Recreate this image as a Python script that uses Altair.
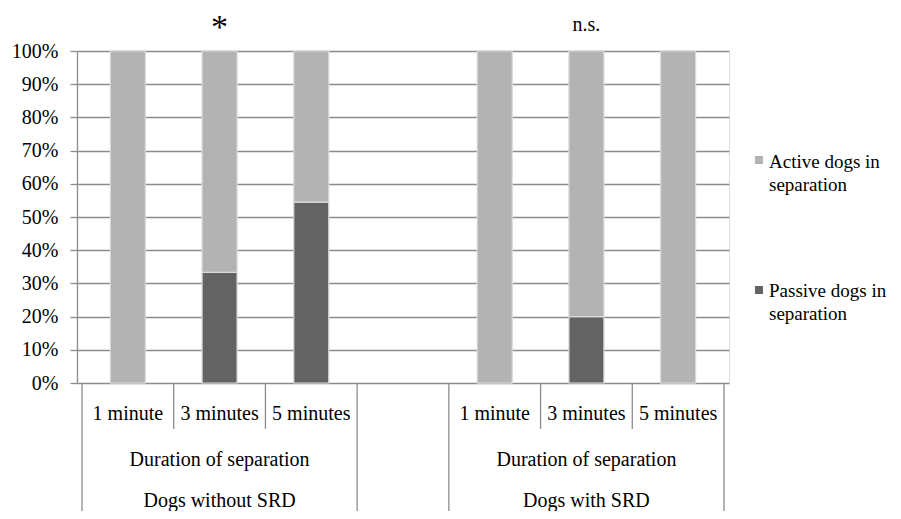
import altair as alt
import pandas as pd

# ---- data ----
groups = ["Dogs without SRD", "Dogs with SRD"]
durations = ["1 minute", "3 minutes", "5 minutes"]
passive_pct = [[0.0, 33.3, 54.5], [0.0, 20.0, 0.0]]
series = ["Active dogs in separation", "Passive dogs in separation"]
legend_lines = ["Active dogs in|separation", "Passive dogs in|separation"]
significance = ["*", "n.s."]
axis_title = "Duration of separation"
y_ticks = [0, 10, 20, 30, 40, 50, 60, 70, 80, 90, 100]

# ---- style ----
FONT = "Liberation Serif"
FS = 20
GRID = "#8c8c8c"
COLORS = ["#b3b3b3", "#636363"]
N_SLOTS = 7  # 3 + gap + 3

# ---- tables built from the arrays ----
rows = []
for g, grp in enumerate(groups):
    for d, dur in enumerate(durations):
        slot = g * 4 + d + 0.5
        p = passive_pct[g][d]
        rows.append({"slot": slot, "group": grp, "duration": dur,
                     "series": series[1], "value": p, "ord": 0})
        rows.append({"slot": slot, "group": grp, "duration": dur,
                     "series": series[0], "value": 100 - p, "ord": 1})
bars_df = pd.DataFrame(rows)

minutes_df = bars_df[bars_df["ord"] == 0][["slot", "duration"]]
group_df = pd.DataFrame({
    "center": [g * 4 + 1.5 for g in range(len(groups))],
    "group": groups,
    "title": [axis_title] * len(groups),
    "sig": significance,
})
short_sep = pd.DataFrame({"x": [g * 4 + k for g in range(len(groups)) for k in (1, 2)]})
long_sep = pd.DataFrame({"x": [g * 4 + k for g in range(len(groups)) for k in (0, 3)]})

xscale = alt.Scale(domain=[0, N_SLOTS], nice=False, zero=False)
color_scale = alt.Scale(domain=series, range=COLORS)

bars = alt.Chart(bars_df).mark_bar(size=35, stroke="#dadada", strokeWidth=1.2).encode(
    x=alt.X("slot:Q", scale=xscale, axis=None),
    y=alt.Y("value:Q", stack="zero",
            scale=alt.Scale(domain=[0, 100], nice=False),
            axis=alt.Axis(values=y_ticks, labelExpr="datum.value + '%'",
                          title=None, grid=True, gridColor=GRID, gridWidth=1.3,
                          tickColor=GRID, tickSize=7, tickWidth=1.3,
                          domainColor=GRID, domainWidth=1.3,
                          labelPadding=12, labelFont=FONT, labelFontSize=FS,
                          labelColor="#000000")),
    color=alt.Color("series:N", scale=color_scale, legend=None),
    order=alt.Order("ord:Q"),
)

short_rules = alt.Chart(short_sep).mark_rule(color=GRID, strokeWidth=1.3).encode(
    x=alt.X("x:Q", scale=xscale), y=alt.value(332), y2=alt.value(378))
long_rules = alt.Chart(long_sep).mark_rule(color=GRID, strokeWidth=1.3).encode(
    x=alt.X("x:Q", scale=xscale), y=alt.value(332), y2=alt.value(480))

minute_text = alt.Chart(minutes_df).mark_text(
    font=FONT, fontSize=FS, baseline="alphabetic", color="#000000").encode(
    x=alt.X("slot:Q", scale=xscale), y=alt.value(369), text="duration:N")
title_text = alt.Chart(group_df).mark_text(
    font=FONT, fontSize=FS, baseline="alphabetic", color="#000000").encode(
    x=alt.X("center:Q", scale=xscale), y=alt.value(415), text="title:N")
group_text = alt.Chart(group_df).mark_text(
    font=FONT, fontSize=FS, baseline="alphabetic", color="#000000").encode(
    x=alt.X("center:Q", scale=xscale), y=alt.value(456), text="group:N")
star_text = alt.Chart(group_df).transform_filter(alt.datum.sig == "*").mark_text(
    font=FONT, fontSize=34, baseline="alphabetic", color="#000000").encode(
    x=alt.X("center:Q", scale=xscale), y=alt.value(-13), text="sig:N")
ns_text = alt.Chart(group_df).transform_filter(alt.datum.sig != "*").mark_text(
    font=FONT, fontSize=FS, baseline="alphabetic", color="#000000").encode(
    x=alt.X("center:Q", scale=xscale), y=alt.value(-20), text="sig:N")

legend_df = pd.DataFrame({"series": series, "label": legend_lines})
legend_layers = []
for i, (ys, yt) in enumerate([(109, 117), (239, 246)]):
    sub = legend_df.iloc[[i]]
    legend_layers.append(
        alt.Chart(sub).mark_square(size=64, opacity=1).encode(
            x=alt.value(682), y=alt.value(ys),
            color=alt.Color("series:N", scale=color_scale, legend=None)))
    legend_layers.append(
        alt.Chart(sub).mark_text(font=FONT, fontSize=19, align="left",
                                 baseline="alphabetic", lineBreak="|",
                                 lineHeight=23, color="#000000").encode(
            x=alt.value(692), y=alt.value(yt), text="label:N"))

chart = alt.layer(
    bars, short_rules, long_rules, minute_text, title_text, group_text,
    star_text, ns_text, *legend_layers
).properties(
    width=652, height=332,
    autosize=alt.AutoSizeParams(type="none"),
    padding={"left": 69, "top": 43, "right": 164, "bottom": 128},
).configure_view(stroke=None).configure(background="white")

chart.save("out.html", embed_options={"renderer": "svg", "actions": False})
